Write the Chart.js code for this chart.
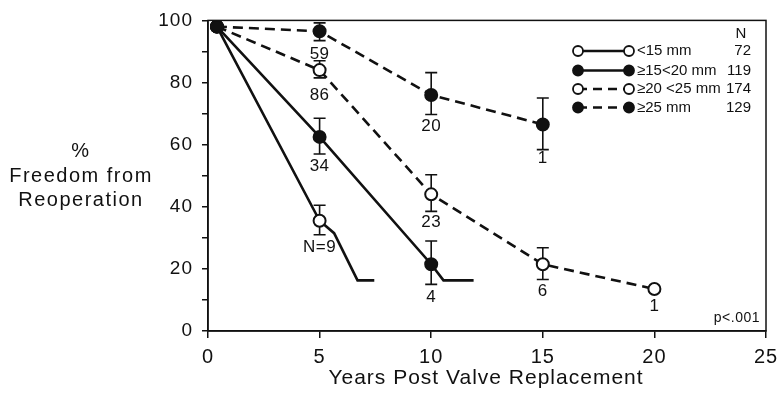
<!DOCTYPE html>
<html>
<head>
<meta charset="utf-8">
<script src="https://cdn.jsdelivr.net/npm/chart.js@4"></script>
<style>
  html,body{margin:0;padding:0;background:#fff;}
  #wrap{width:777px;height:403px;position:relative;}
</style>
</head>
<body>
<div id="wrap"><canvas id="c" width="777" height="403"></canvas></div>
<script>
// series: [years, % freedom from reoperation]; markers only where m=1
const NAMES = ['<15 mm', '\u226515<20 mm', '\u226520 <25 mm', '\u226525 mm'];
const N_PTS = [72, 119, 174, 129];
const S_LT15 = [[0.4,98],[5,35.5],[5.65,31.5],[6.7,16.3],[7.45,16.3]];
const M_LT15 = [1,1,0,0,0];
const S_15_20 = [[0.4,98],[5,62.5],[10,21.5],[10.55,16.3],[11.9,16.3]];
const M_15_20 = [1,1,1,0,0];
const S_20_25 = [[0.4,98],[5,84],[10,44],[15,21.5],[20,13.5]];
const M_20_25 = [1,1,1,1,1];
const S_GE25 = [[0.4,98],[5,96.5],[10,76],[15,66.5]];
const M_GE25 = [1,1,1,1];

// error bars: [x, low, high]
const ERR = [
  [5,31,40.5],[5,57,68.5],[5,81.5,87],[5,93.5,99.2],
  [10,15,29],[10,38.5,50.3],[10,69.7,83.2],
  [15,16.6,26.8],[15,58.4,75]
];
// numbers at risk: [x, y, text]
const NOTES = [
  [5,89,'59'],[5,76,'86'],[5,53,'34'],[5,27,'N=9'],
  [10,66,'20'],[10,35,'23'],[10,11,'4'],
  [15,55.5,'1'],[15,12.8,'6'],[20,8,'1']
];
const X_TICKS = [0,5,10,15,20,25];

const FONT = '"Liberation Sans", Arial, sans-serif';
const INK = '#111';

function pts(s){ return s.map(p=>({x:p[0],y:p[1]})); }
function ds(s, m, filled, dashed, order){
  return {
    data: pts(s),
    order: order,
    borderColor: INK,
    borderWidth: 2.6,
    borderDash: dashed ? [10,6] : [],
    pointRadius: m.map(v=>v?6:0),
    pointBackgroundColor: filled ? INK : '#fff',
    pointBorderColor: INK,
    pointBorderWidth: 2,
    tension: 0,
    showLine: true
  };
}

const extras = {
  id:'extras',
  beforeLayout(chart){ chart.ctx.letterSpacing = '1px'; },
  beforeDatasetsDraw(chart){
    const {ctx, scales:{x,y}} = chart;
    ctx.save();
    ctx.strokeStyle = INK; ctx.lineWidth = 1.6;
    ERR.forEach(e=>{
      const px = x.getPixelForValue(e[0]);
      const lo = y.getPixelForValue(e[1]), hi = y.getPixelForValue(e[2]);
      ctx.beginPath();
      ctx.moveTo(px,lo); ctx.lineTo(px,hi);
      ctx.moveTo(px-6,lo); ctx.lineTo(px+6,lo);
      ctx.moveTo(px-6,hi); ctx.lineTo(px+6,hi);
      ctx.stroke();
    });
    ctx.restore();
  },
  afterDraw(chart){
    const {ctx, chartArea:a, scales:{x,y}} = chart;
    ctx.save();
    // frame
    ctx.strokeStyle = INK; ctx.lineWidth = 1.5;
    ctx.strokeRect(a.left, a.top, a.right-a.left, a.bottom-a.top);
    ctx.fillStyle = INK;
    ctx.textAlign = 'center'; ctx.textBaseline = 'middle';
    ctx.letterSpacing = '0.5px';
    ctx.font = '17px ' + FONT;
    NOTES.forEach(n=>ctx.fillText(n[2], x.getPixelForValue(n[0]), y.getPixelForValue(n[1])));
    // p value
    ctx.font = '14px ' + FONT;
    ctx.textAlign = 'right';
    ctx.fillText('p<.001', 760, 318);
    // axis titles
    ctx.letterSpacing = '1.5px';
    ctx.font = '20px ' + FONT;
    ctx.textAlign = 'center';
    ctx.fillText('%', 81, 151);
    ctx.fillText('Freedom from', 81, 176);
    ctx.fillText('Reoperation', 81, 200);
    ctx.letterSpacing = '1px';
    ctx.font = '21px ' + FONT;
    ctx.fillText('Years Post Valve Replacement', 486, 378);
    // legend
    ctx.letterSpacing = '0px';
    ctx.font = '15px ' + FONT;
    ctx.fillText('N', 741, 34);
    const rows = [51, 70.5, 89, 107.5];
    const filled = [false, true, false, true];
    const dashed = [false, false, true, true];
    rows.forEach((ry,i)=>{
      ctx.beginPath();
      ctx.setLineDash(dashed[i] ? [9,6] : []);
      ctx.lineWidth = 2.4;
      ctx.moveTo(578, ry); ctx.lineTo(629, ry);
      ctx.stroke();
      ctx.setLineDash([]);
      [578, 629].forEach(cx=>{
        ctx.beginPath();
        ctx.arc(cx, ry, 5, 0, Math.PI*2);
        ctx.fillStyle = filled[i] ? INK : '#fff';
        ctx.fill();
        ctx.lineWidth = 1.8;
        ctx.stroke();
      });
      ctx.fillStyle = INK;
      ctx.textAlign = 'left';
      ctx.fillText(NAMES[i], 637, ry);
      ctx.textAlign = 'right';
      ctx.fillText(String(N_PTS[i]), 751, ry);
    });
    ctx.restore();
  }
};

new Chart(document.getElementById('c'), {
  type: 'scatter',
  data: { datasets: [
    ds(S_LT15, M_LT15, false, false, 3),
    ds(S_15_20, M_15_20, true, false, 1),
    ds(S_20_25, M_20_25, false, true, 2),
    ds(S_GE25, M_GE25, true, true, 0)
  ]},
  options: {
    responsive: false,
    animation: false,
    layout: { padding: { left: 0, right: 11, top: 13, bottom: 0 } },
    plugins: { legend: { display: false }, tooltip: { enabled: false } },
    scales: {
      x: {
        type: 'linear', min: 0, max: 25,
        afterBuildTicks(s){ s.ticks = X_TICKS.map(v=>({value:v})); },
        afterFit(s){ s.height = 72; s.paddingRight = 0; },
        grid: { drawOnChartArea: false, drawTicks: true, tickLength: 7, color: INK, lineWidth: 1.5 },
        border: { color: INK, width: 1.5 },
        ticks: { color: INK, font: { family: FONT, size: 20 }, padding: 7 },
        title: { display: false }
      },
      y: {
        type: 'linear', min: 0, max: 100,
        afterFit(s){ s.width = 208; },
        grid: { drawOnChartArea: false, drawTicks: true, tickLength: 6, color: INK, lineWidth: 1.5 },
        border: { color: INK, width: 1.5 },
        ticks: { stepSize: 10, color: INK, font: { family: FONT, size: 19 }, padding: 9,
                 callback: v => v % 20 === 0 ? v : '' }
      }
    }
  },
  plugins: [extras]
});
</script>
</body>
</html>
